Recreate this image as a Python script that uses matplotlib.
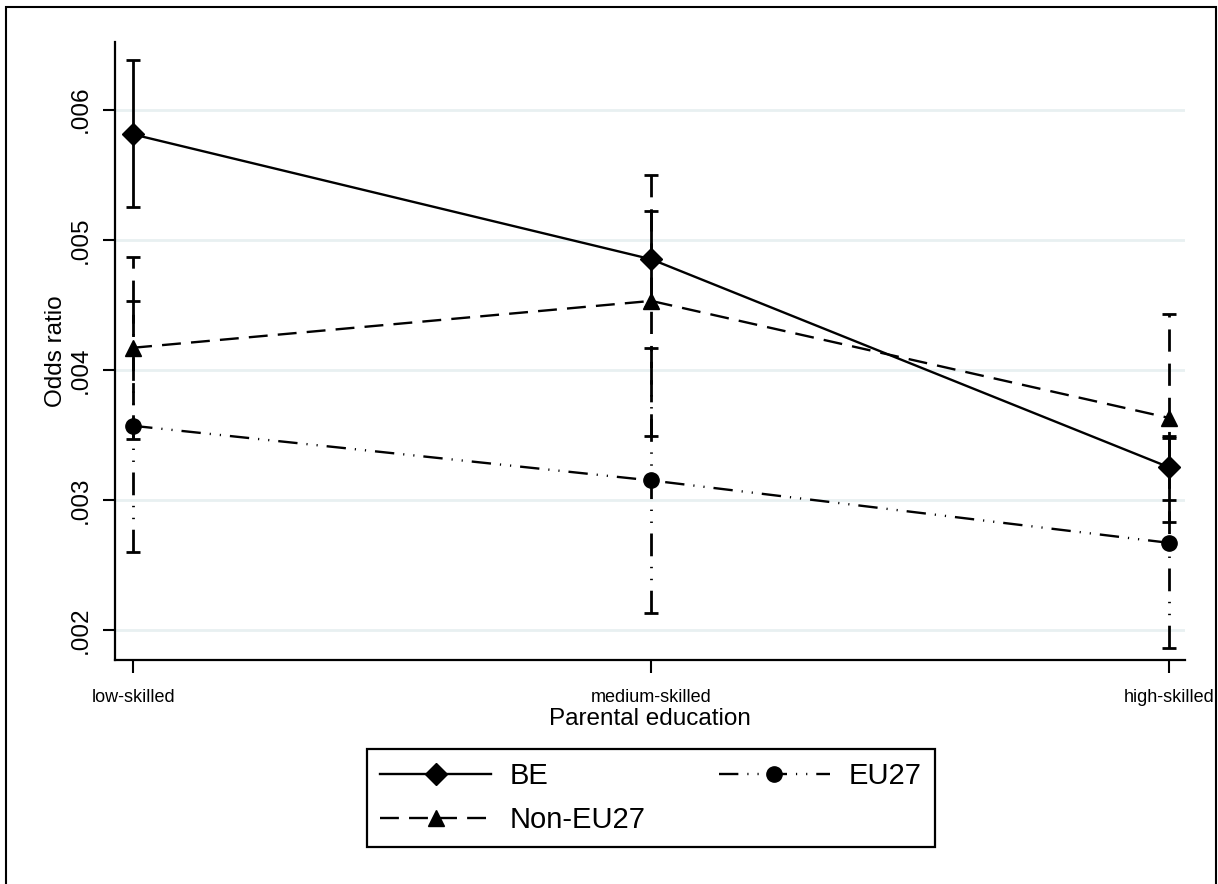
import matplotlib

matplotlib.use("Agg")
import matplotlib.pyplot as plt
from matplotlib.patches import Rectangle

plt.rcParams["font.family"] = ["Liberation Sans", "DejaVu Sans"]

# values
categories = ["low-skilled", "medium-skilled", "high-skilled"]

be = [0.00581, 0.00485, 0.00325]
be_lo = [0.00525, 0.00448, 0.00300]
be_hi = [0.00638, 0.00522, 0.00349]

non_eu = [0.00417, 0.00453, 0.00363]
non_eu_lo = [0.00347, 0.00349, 0.00283]
non_eu_hi = [0.00487, 0.00550, 0.00443]

eu = [0.00357, 0.00315, 0.00267]
eu_lo = [0.00260, 0.00213, 0.00186]
eu_hi = [0.00453, 0.00417, 0.00348]

y_ticks = [0.002, 0.003, 0.004, 0.005, 0.006]
y_tick_labels = [".002", ".003", ".004", ".005", ".006"]

W, H = 1218, 884
fig = plt.figure(figsize=(W / 100, H / 100), dpi=100)
ax = fig.add_axes([115 / W, 1 - 660 / H, (1185 - 115) / W, (660 - 42) / H])

x = list(range(len(categories)))
DASH = (0, (8, 4.3))
DASHDOT = (0, (8.2, 3.8, 0.5, 3.8, 0.5, 3.8))

series = [
    ("BE", be, be_lo, be_hi, "-", "D", 11.5),
    ("Non-EU27", non_eu, non_eu_lo, non_eu_hi, DASH, "^", 12),
    ("EU27", eu, eu_lo, eu_hi, DASHDOT, "o", 11),
]

handles = {}
for name, vals, lo, hi, ls, mk, ms in series:
    err = [[v - l for v, l in zip(vals, lo)], [h - v for v, h in zip(vals, hi)]]
    cont = ax.errorbar(x, vals, yerr=err, fmt="none", ecolor="black",
                       elinewidth=2.0, capsize=5, capthick=2.0, zorder=3)
    cont.lines[2][0].set_linestyle(ls)
    (ln,) = ax.plot(x, vals, color="black", linestyle=ls, linewidth=1.7,
                    marker=mk, markersize=ms, label=name, zorder=4)
    handles[name] = ln

ax.set_xlim(-0.035, 2.03)
ax.set_ylim(0.00177, 0.00652)
ax.set_yticks(y_ticks)
ax.set_yticklabels(y_tick_labels, rotation=90, va="center", fontsize=17.5)
ax.set_xticks(x)
ax.set_xticklabels(categories, fontsize=13)
ax.tick_params(axis="y", length=9, width=1.5, pad=8, color="black")
ax.tick_params(axis="x", length=9, width=1.5, pad=12, color="black")

ax.grid(axis="y", color="#e8f0f1", linewidth=2.0, zorder=0)
ax.set_axisbelow(True)
for side in ("top", "right"):
    ax.spines[side].set_visible(False)
for side in ("left", "bottom"):
    ax.spines[side].set_linewidth(1.6)

ax.set_ylabel("Odds ratio", fontsize=17.5, labelpad=2)
ax.set_xlabel("Parental education", fontsize=17.5, labelpad=1)

leg = fig.legend(
    [handles["BE"], handles["Non-EU27"], handles["EU27"]],
    ["BE", "Non-EU27", "EU27"],
    ncol=2, loc="center", mode="expand", borderaxespad=0,
    bbox_to_anchor=(367 / W, 1 - 848 / H, 568 / W, 100 / H),
    fontsize=21, handlelength=3.8, handletextpad=0.65,
    borderpad=0.45, labelspacing=0.55, columnspacing=1.8,
    frameon=True, fancybox=False, edgecolor="black", framealpha=1,
)
leg.get_frame().set_linewidth(1.6)

# outer border of the graph region
fig.patches.append(Rectangle((6 / W, -0.01), (1216 - 6) / W, 1.01 - 7 / H,
                             transform=fig.transFigure, fill=False,
                             edgecolor="black", linewidth=1.5))

fig.savefig("out.png", dpi=100)
